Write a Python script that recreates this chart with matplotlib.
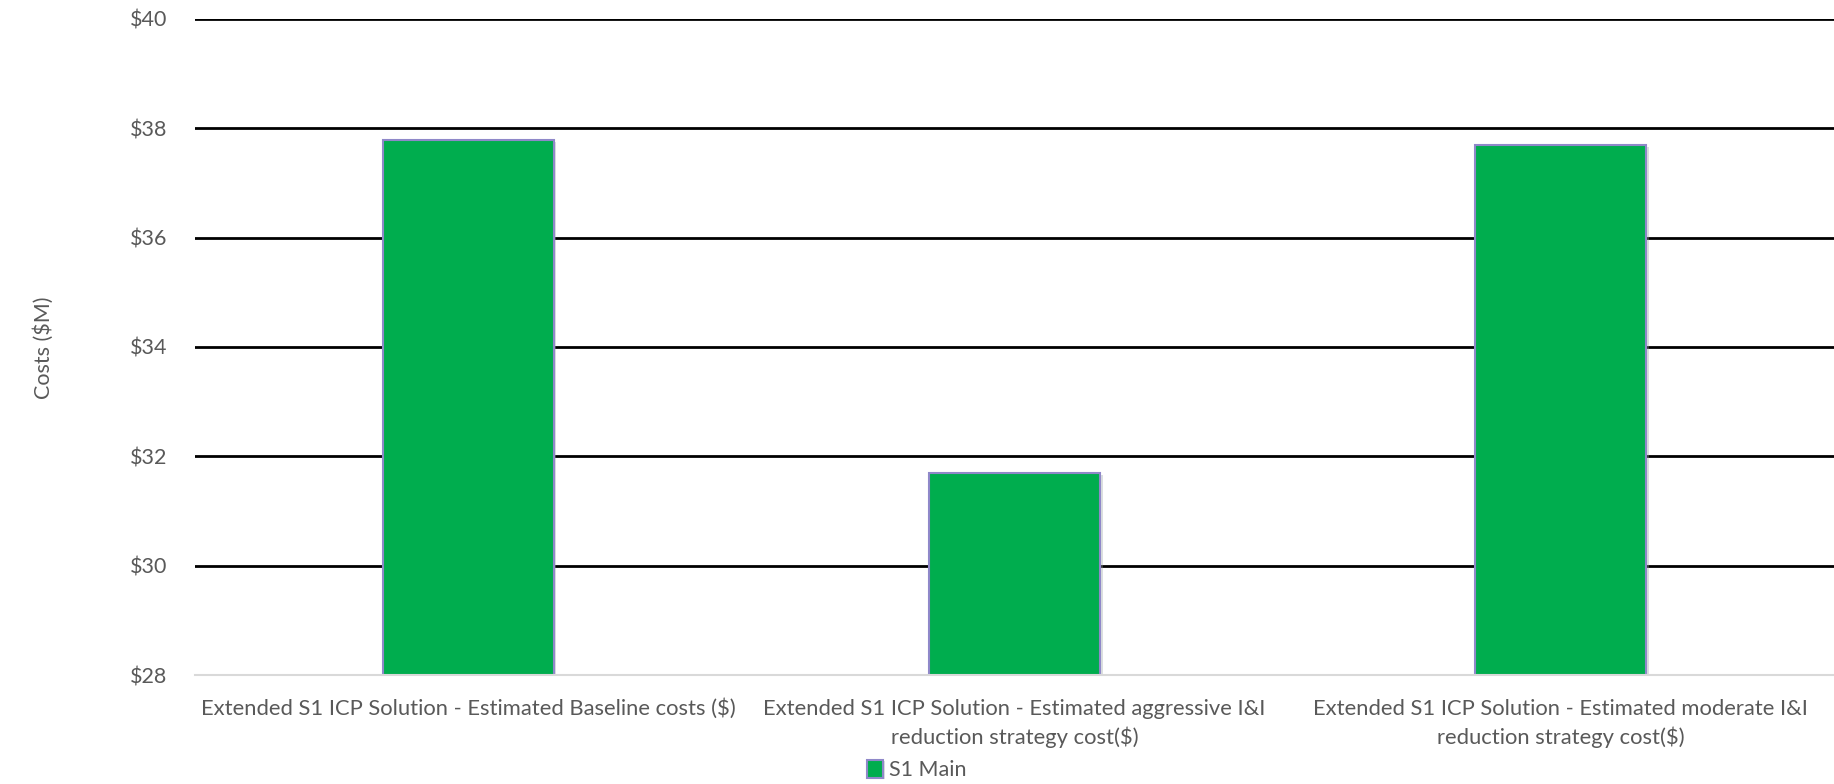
import matplotlib.pyplot as plt
import matplotlib.patheffects as pe
import numpy as np

# cost per solution option, $M
categories = ['Extended S1 ICP Solution - Estimated Baseline costs ($)',
              'Extended S1 ICP Solution - Estimated aggressive I&I\nreduction strategy cost($)',
              'Extended S1 ICP Solution - Estimated moderate I&I\nreduction strategy cost($)']
s1_main = [37.78, 31.69, 37.69]
yticks = [28, 30, 32, 34, 36, 38, 40]

plt.rcParams['font.family'] = ['Lato', 'DejaVu Sans']
grey = '#595959'

fig = plt.figure(figsize=(18.34, 7.84), dpi=100)
ax = fig.add_axes([0.1063, 0.139, 0.8937, 0.837])

x = np.arange(len(categories))
bars = ax.bar(x, s1_main, width=0.313, bottom=0, color='#00ad4e', edgecolor='#8f88c9',
              linewidth=1.5, label='S1 Main', zorder=3)
# faint drop shadow round the bars
for b in bars:
    b.set_path_effects([pe.SimplePatchShadow(offset=(2, -1), shadow_rgbFace='#9aa5a5', alpha=0.35),
                        pe.Normal()])

ax.set_ylim(28, 40)
ax.set_xlim(-0.5, 2.5)
ax.set_yticks(yticks)
ax.set_yticklabels(['$%d' % v for v in yticks])
ax.yaxis.grid(True, color='black', linewidth=2, zorder=0)
ax.set_axisbelow(True)
ax.set_xticks(x)
ax.set_xticklabels(categories, fontsize=15.8, color=grey, linespacing=1.45)
ax.tick_params(axis='y', labelsize=15.5, labelcolor=grey, length=0, pad=20)
ax.tick_params(axis='x', length=0, pad=17)

for side in ['top', 'right', 'left']:
    ax.spines[side].set_visible(False)
ax.spines['bottom'].set_color('#d9d9d9')
ax.spines['bottom'].set_linewidth(1.5)
ax.spines['bottom'].set_zorder(4)

fig.text(0.0235, 0.557, 'Costs ($M)', rotation=90, fontsize=15.5, color=grey,
         ha='center', va='center')

leg = fig.legend(loc='lower center', bbox_to_anchor=(0.5, -0.02), frameon=False,
                 fontsize=15.5, handlelength=0.7, handleheight=0.9, handletextpad=0.3)
for t in leg.get_texts():
    t.set_color(grey)

fig.savefig('out.png', dpi=100)
